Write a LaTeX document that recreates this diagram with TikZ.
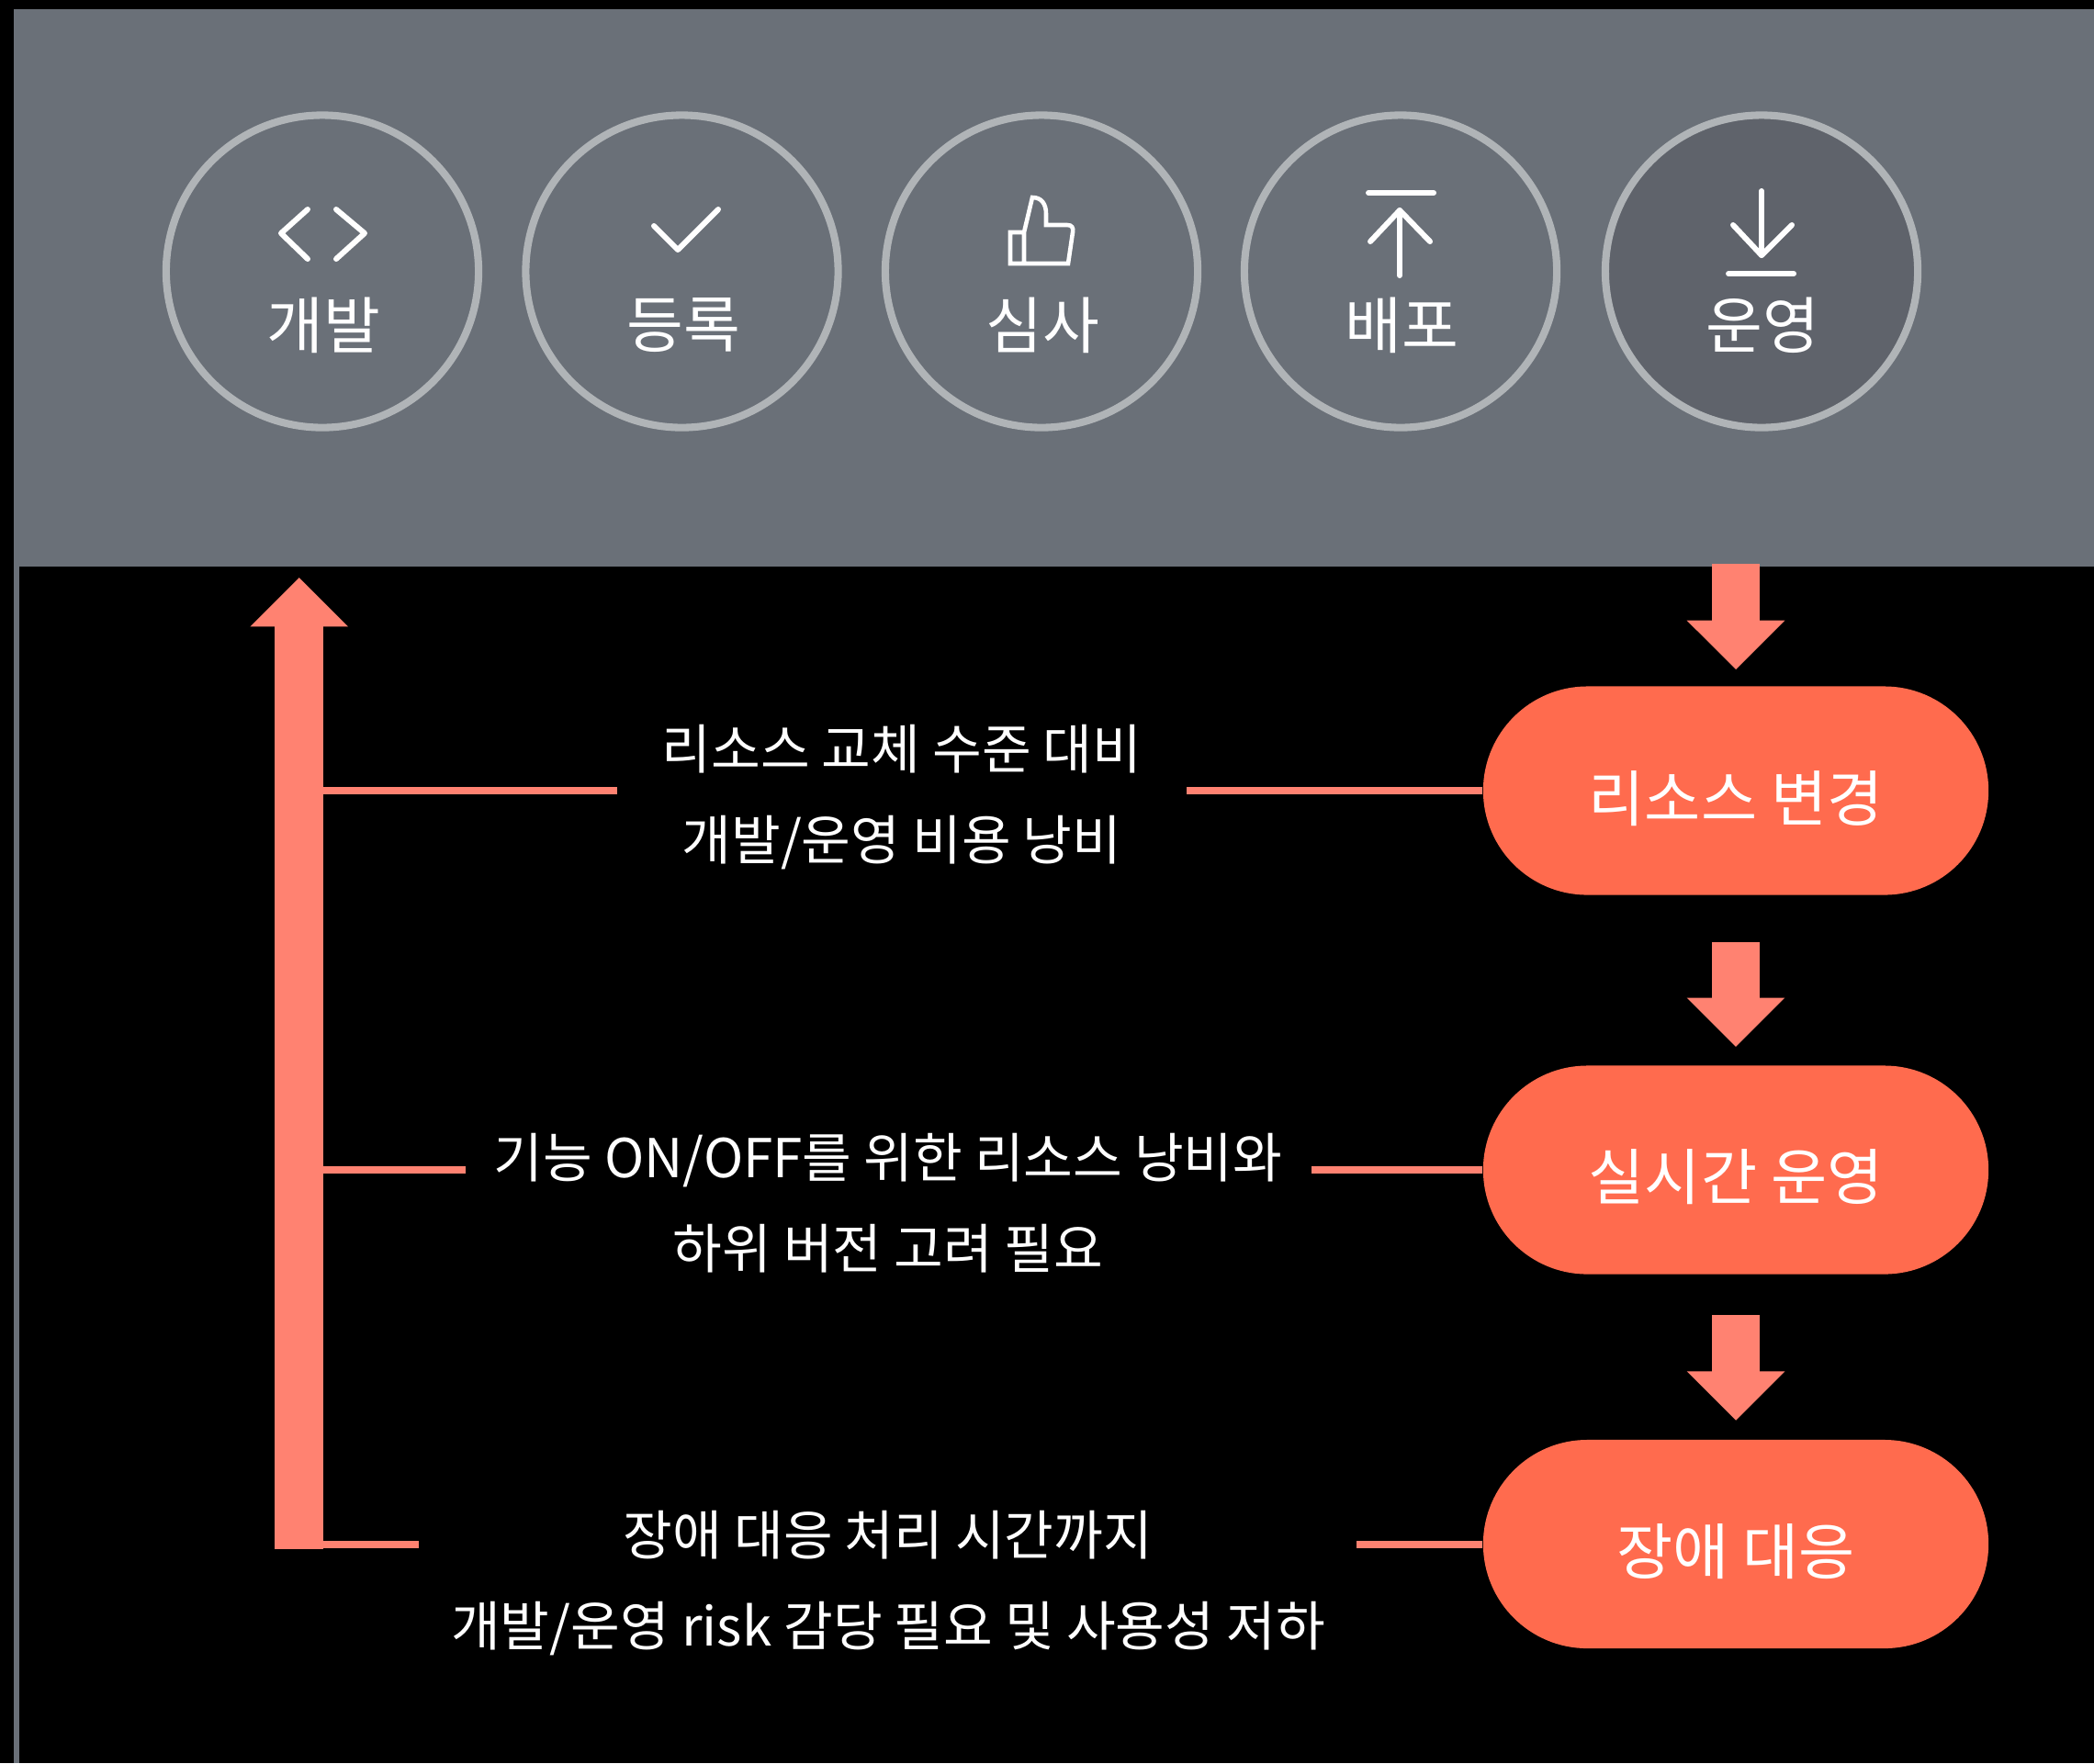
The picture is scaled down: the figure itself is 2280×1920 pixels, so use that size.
\documentclass[tikz,border=0pt]{standalone}
\usepackage{fontspec}
\setmainfont{Noto Sans CJK KR}
\usetikzlibrary{arrows.meta,shapes.misc}
\definecolor{panelgray}{HTML}{6A7078}
\definecolor{darkgray}{HTML}{5F636B}
\definecolor{ringgray}{HTML}{B0B4B7}
\definecolor{pillred}{HTML}{FF6B4E}
\definecolor{arrowred}{HTML}{FF8271}
\tikzset{
  stage/.style={circle,draw=ringgray,line width=2.3pt,minimum size=3.4cm,inner sep=0pt},
  stagetext/.style={text=white,font=\fontsize{19.1}{22}\selectfont,inner sep=0pt},
  icon/.style={draw=white,line width=1.7pt,line cap=round,line join=round},
  pill/.style={rounded rectangle,fill=pillred,minimum width=5.5cm,minimum height=2.27cm,inner sep=0pt},
  pilltext/.style={text=white,font=\fontsize{18.9}{22}\selectfont,inner sep=0pt},
  note/.style={text=white,align=center,inner sep=0pt,font=\fontsize{16.6}{28.35}\selectfont},
  bigarrow/.style={draw=arrowred,line width=15pt,-{Triangle[length=15.2pt,width=29.4pt]}},
  branch/.style={draw=arrowred,line width=2.3pt}
}
\begin{document}
\begin{tikzpicture}[x=0.01cm,y=-0.01cm]
\useasboundingbox (0,0) rectangle (2280,1920);
\fill[black] (0,0) rectangle (2280,1920);
\fill[panelgray] (15,10) rectangle (2280,617);
\fill[panelgray] (15,617) rectangle (21,1920);

\node[stage] (dev) at (351,295.5) {};
\node[stage] (reg) at (742.5,295.5) {};
\node[stage] (rev) at (1134,295.5) {};
\node[stage] (dep) at (1525,295.5) {};
\node[stage,fill=darkgray] (ops) at (1918,295.5) {};

\node[stagetext] (devtext) at (352,354.5) {개발};
\node[stagetext] (regtext) at (744,354.5) {등록};
\node[stagetext] (revtext) at (1135,354.5) {심사};
\node[stagetext] (deptext) at (1526,354.5) {배포};
\node[stagetext] (opstext) at (1919,354.5) {운영};

\draw[icon] (335,228) -- (306,254) -- (335,282);
\draw[icon] (366,228) -- (397,254) -- (366,282);
\draw[icon] (712,246) -- (738,272) -- (782,228);
\draw[icon,line width=1.3pt,line cap=butt,line join=miter] (1100,253) -- (1115,253) -- (1124,215) .. controls (1134,215) and (1139,222) .. (1139,233) -- (1139,245) -- (1162,245) .. controls (1167,245) and (1169,248) .. (1168,253) -- (1163,287) -- (1100,287) -- cycle (1115,253) -- (1115,287);
\draw[icon] (1490,210) -- (1561,210);
\draw[icon] (1524,300) -- (1524,229);
\draw[icon] (1492,263) -- (1524,229) -- (1557,263);
\draw[icon] (1918,208) -- (1918,278);
\draw[icon] (1887,245) -- (1918,278) -- (1951,245);
\draw[icon] (1882,298) -- (1953,298);

\node[pill] (change) at (1890,861) {};
\node[pill] (live) at (1890,1274) {};
\node[pill] (fault) at (1890,1681.5) {};
\node[pilltext] (changetext) at (1890,870) {리소스 변경};
\node[pilltext] (livetext) at (1890,1282) {실시간 운영};
\node[pilltext] (faulttext) at (1890,1690) {장애 대응};

\node[note] (cost) at (982,868) {리소스 교체 수준 대비\\개발/운영 비용 낭비};
\node[note] (waste) at (967,1310) {기능 ON/OFF를 위한 리소스 낭비와\\하위 버전 고려 필요};
\node[note] (risk) at (967,1724) {장애 대응 처리 시간까지\\개발/운영 risk 감당 필요 및 사용성 저하};

\coordinate (downstart) at (1890,614);
\coordinate (upbottom) at (325.7,1687);
\coordinate (uptop) at (325.7,629);
\draw[bigarrow,shorten >=5pt] (downstart) -- (change.north);
\draw[bigarrow,shorten <=14.5pt,shorten >=5.6pt] (change.south) -- (live.north);
\draw[bigarrow,shorten <=12.5pt,shorten >=5.8pt] (live.south) -- (fault.north);
\draw[bigarrow] (upbottom) -- (uptop);

\coordinate (costleft) at (352,861);
\coordinate (costgap) at (672,861);
\coordinate (costright) at (1292,861);
\coordinate (wasteleft) at (352,1274);
\coordinate (wastegap) at (507,1274);
\coordinate (wasteright) at (1428,1274);
\coordinate (riskleft) at (352,1681.5);
\coordinate (riskgap) at (456,1681.5);
\coordinate (riskright) at (1477,1681.5);
\draw[branch] (costleft) -- (costgap);
\draw[branch] (costright) -- (change.west);
\draw[branch] (wasteleft) -- (wastegap);
\draw[branch] (wasteright) -- (live.west);
\draw[branch] (riskleft) -- (riskgap);
\draw[branch] (riskright) -- (fault.west);
\end{tikzpicture}
\end{document}
